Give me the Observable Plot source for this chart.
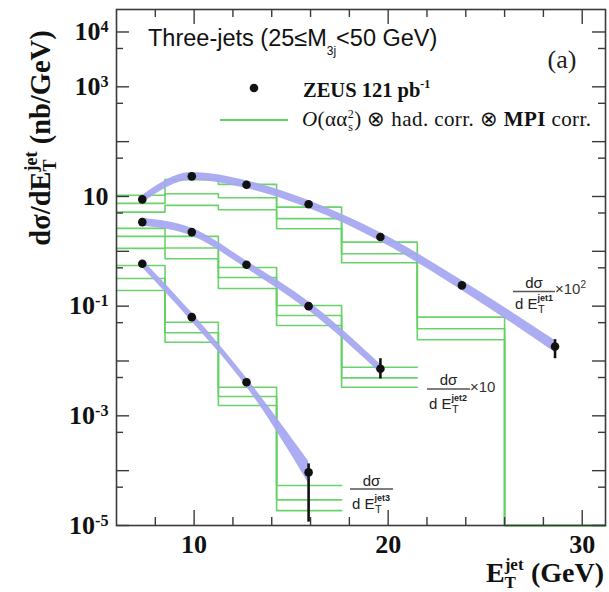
<!DOCTYPE html>
<html>
<head>
<meta charset="utf-8">
<script src="https://cdn.jsdelivr.net/npm/d3@7"></script>
<script src="https://cdn.jsdelivr.net/npm/@observablehq/plot@0.6"></script>
<style>
  html, body { margin: 0; padding: 0; background: #fff; }
  svg text { white-space: pre; }
</style>
</head>
<body>
<div id="chart"></div>
<script>
// ---------- data ----------
const binEdges = [6, 8.5, 11.25, 14.25, 17.6, 21.5, 26, 31.2];
const etJet = [7.33, 9.88, 12.7, 15.9, 19.6, 23.8, 28.6];

// ZEUS data points (nb/GeV), jet1 scaled x10^2, jet2 scaled x10
const jet1Data  = [8.85, 23.3, 16.4, 7.2, 1.82, 0.239, 0.0184];
const jet1ErrHi = [9.2, 24.2, 17.0, 7.5, 1.9, 0.25, 0.0245];
const jet1ErrLo = [8.5, 22.4, 15.8, 6.9, 1.74, 0.228, 0.011];
const jet2Data  = [3.41, 2.24, 0.569, 0.1, 0.0072];
const jet2ErrHi = [3.55, 2.33, 0.59, 0.104, 0.011];
const jet2ErrLo = [3.27, 2.15, 0.55, 0.096, 0.0047];
const jet3Data  = [0.594, 0.063, 0.0041, 9.3e-5];
const jet3ErrHi = [0.62, 0.066, 0.0043, 1.33e-4];
const jet3ErrLo = [0.57, 0.060, 0.0039, 1.15e-5];

// lavender band
const jet1BandLo = [7.53, 19.8, 14.0, 6.11, 1.51, 0.194, 0.0143];
const jet1BandHi = [10.4, 27.4, 19.3, 8.43, 2.18, 0.294, 0.0237];
const jet2BandLo = [2.9, 1.91, 0.484, 0.083, 0.006];
const jet2BandHi = [4.01, 2.63, 0.668, 0.12, 0.0087];
const jet3BandLo = [0.506, 0.0525, 0.0034, 5.9e-5];
const jet3BandHi = [0.698, 0.0759, 0.0049, 1.48e-4];

// O(alpha alpha_s^2) x had. corr. x MPI corr. (per bin: upper, central, lower)
const jet1TheoryUp   = [10.5, 20.3, 16.6, 6.41, 1.47, 0.063, 0];
const jet1TheoryMid  = [7.48, 11.2, 9.5, 3.94, 0.904, 0.0387, 0];
const jet1TheoryDown = [5.19, 6.88, 5.74, 2.58, 0.619, 0.0244, 0];
const jet2TheoryUp   = [2.62, 1.87, 0.508, 0.103, 0.0077];
const jet2TheoryMid  = [1.87, 1.15, 0.334, 0.0676, 0.00493];
const jet2TheoryDown = [1.13, 0.733, 0.21, 0.0445, 0.00333];
const jet3TheoryUp   = [0.553, 0.051, 0.00333, 5.35e-5];
const jet3TheoryMid  = [0.32, 0.0327, 0.00225, 2.93e-5];
const jet3TheoryDown = [0.193, 0.022, 0.00154, 1.87e-5];

// axis ticks
const yTickMajor = [1e4, 1e3, 1e2, 10, 1, 0.1, 0.01, 1e-3, 1e-4, 1e-5];
const yTickMinor = [5e3, 500, 50, 5, 0.5, 0.05, 0.005, 5e-4, 5e-5];
const yTickLabels = [1e4, 1e3, 10, 0.1, 1e-3, 1e-5];
const xTickMajor = [10, 20, 30];
const xTickMinor = [8, 12, 14, 16, 18, 22, 24, 26, 28];

// ---------- build tables ----------
const W = 609, H = 592;
const mL = 116, mR = 4, mT = 9, mB = 67;
const fw = W - mL - mR, fh = H - mT - mB;
const yDomain = [1e-5, 2.57e4];
const xDomain = [6, 31.2];

const series = [
  {key: "jet1", data: jet1Data, hi: jet1ErrHi, lo: jet1ErrLo, bLo: jet1BandLo, bHi: jet1BandHi,
   theory: [jet1TheoryUp, jet1TheoryMid, jet1TheoryDown]},
  {key: "jet2", data: jet2Data, hi: jet2ErrHi, lo: jet2ErrLo, bLo: jet2BandLo, bHi: jet2BandHi,
   theory: [jet2TheoryUp, jet2TheoryMid, jet2TheoryDown]},
  {key: "jet3", data: jet3Data, hi: jet3ErrHi, lo: jet3ErrLo, bLo: jet3BandLo, bHi: jet3BandHi,
   theory: [jet3TheoryUp, jet3TheoryMid, jet3TheoryDown]}
];

const points = series.flatMap(s => s.data.map((v, i) => ({
  key: s.key, x: etJet[i], y: v, lo: s.lo[i], hi: s.hi[i], bLo: s.bLo[i], bHi: s.bHi[i]
})));

const steps = series.flatMap(s => s.theory.flatMap((vals, j) => {
  const z = s.key + "-" + j;
  const rows = vals.map((v, i) => ({z, j, x: binEdges[i], y: Math.max(v, yDomain[0])}));
  rows.push({z, j, x: binEdges[vals.length], y: Math.max(vals[vals.length - 1], yDomain[0])});
  return rows;
}));

const green = "#62d062";
const axisColor = "#3a3a3a";

const plot = Plot.plot({
  width: W, height: H,
  marginLeft: mL, marginRight: mR, marginTop: mT, marginBottom: mB,
  style: {fontFamily: "'Liberation Serif', 'Times New Roman', serif", background: "#fff", overflow: "visible"},
  x: {domain: xDomain},
  y: {type: "log", domain: yDomain},
  marks: [
    Plot.line(steps, {x: "x", y: "y", z: "z", curve: "step-after",
      stroke: green, strokeWidth: 1.6, strokeOpacity: 0.95}),
    Plot.areaY(points, {x: "x", y1: "bLo", y2: "bHi", z: "key", curve: "monotone-x",
      fill: "#a7a8f0", fillOpacity: 0.95}),
    Plot.ruleX(points, {x: "x", y1: "lo", y2: "hi", stroke: "#111", strokeWidth: 2.6}),
    Plot.dot(points, {x: "x", y: "y", r: 4.3, fill: "#111", stroke: "none"}),
    // inward ticks on all four sides
    Plot.tickY(yTickMajor, {y: d => d, insetRight: fw - 13, stroke: axisColor, strokeWidth: 1.4}),
    Plot.tickY(yTickMajor, {y: d => d, insetLeft: fw - 13, stroke: axisColor, strokeWidth: 1.4}),
    Plot.tickY(yTickMinor, {y: d => d, insetRight: fw - 7, stroke: axisColor, strokeWidth: 1.4}),
    Plot.tickY(yTickMinor, {y: d => d, insetLeft: fw - 7, stroke: axisColor, strokeWidth: 1.4}),
    Plot.tickX(xTickMajor, {x: d => d, insetTop: fh - 15, stroke: axisColor, strokeWidth: 1.4}),
    Plot.tickX(xTickMajor, {x: d => d, insetBottom: fh - 15, stroke: axisColor, strokeWidth: 1.4}),
    Plot.tickX(xTickMinor, {x: d => d, insetTop: fh - 8, stroke: axisColor, strokeWidth: 1.4}),
    Plot.tickX(xTickMinor, {x: d => d, insetBottom: fh - 8, stroke: axisColor, strokeWidth: 1.4}),
    Plot.frame({stroke: axisColor, strokeWidth: 1.6}),
    Plot.axisY({ticks: yTickLabels, tickSize: 0, tickPadding: 8, label: null,
      tickFormat: d => d === 10 ? "10" : "10^" + Math.round(Math.log10(d))}),
    Plot.axisX({ticks: xTickMajor, tickSize: 0, tickPadding: 9, label: null, tickFormat: d => String(d)})
  ]
});

document.getElementById("chart").appendChild(plot);
const svg = d3.select(plot);

// style axis labels
svg.selectAll('g[aria-label="y-axis tick label"], g[aria-label="x-axis tick label"]')
  .attr("font-size", 26).attr("font-weight", "bold")
  .attr("font-family", "'Liberation Serif', serif").attr("fill", "#111");

svg.selectAll('g[aria-label="y-axis tick label"] text').each(function() {
  const s = this.textContent;
  if (s.includes("^")) {
    const [base, exp] = s.split("^");
    this.textContent = "";
    d3.select(this).append("tspan").text(base);
    d3.select(this).append("tspan").attr("dy", "-0.5em").attr("font-size", "0.62em").text(exp);
  }
});

// rich text helper: parts = [{t, shift(px, neg=up), dx, size, weight, style, family}]
function rich(parent, x, y, parts, attrs = {}) {
  const t = parent.append("text").attr("x", x).attr("y", y).attr("text-anchor", "start");
  for (const [k, v] of Object.entries(attrs)) t.attr(k, v);
  let cur = 0;
  for (const p of parts) {
    const s = p.shift || 0;
    const ts = t.append("tspan").text(p.t);
    if (s - cur !== 0) ts.attr("dy", s - cur);
    if (p.dx) ts.attr("dx", p.dx);
    if (p.size) ts.attr("font-size", p.size);
    if (p.weight) ts.attr("font-weight", p.weight);
    if (p.style) ts.attr("font-style", p.style);
    if (p.family) ts.attr("font-family", p.family);
    cur = s;
  }
  return t;
}

const ann = svg.append("g").attr("class", "annotations").attr("text-anchor", "start");
const serif = "'Liberation Serif', 'Times New Roman', serif";
const sans = "'Liberation Sans', Arial, sans-serif";

// y axis title (rotated)
rich(ann.append("g").attr("transform", "translate(50,138) rotate(-90)"), 0, 0, [
  {t: "dσ/dE"},
  {t: "jet", size: 18, shift: -13},
  {t: "T", size: 18, shift: 6, dx: -20},
  {t: " (nb/GeV)", shift: 0, dx: 8}
], {"text-anchor": "middle", "font-size": 28.5, "font-weight": "bold", "font-family": serif, fill: "#111"});

// x axis title
rich(ann, 604, 582, [
  {t: "E"},
  {t: "jet", size: 17, shift: -12},
  {t: "T", size: 17, shift: 6, dx: -19},
  {t: " (GeV)", shift: 0, dx: 8}
], {"text-anchor": "end", "font-size": 28, "font-weight": "bold", "font-family": serif, fill: "#111"});

// title
rich(ann, 148, 46, [
  {t: "Three-jets (25≤M"},
  {t: "3j", size: 12, shift: 9},
  {t: "<50 GeV)", shift: 0}
], {"font-size": 23.5, "font-family": sans, fill: "#111"});

// (a)
ann.append("text").attr("x", 562).attr("y", 68).attr("text-anchor", "middle")
  .attr("font-size", 26).attr("font-family", serif).attr("fill", "#222").text("(a)");

// legend
ann.append("circle").attr("cx", 254).attr("cy", 88).attr("r", 4.3).attr("fill", "#111");
rich(ann, 303, 97, [
  {t: "ZEUS 121 pb"},
  {t: "-1", size: 12, shift: -9}
], {"font-size": 20.5, "font-weight": "bold", "font-family": serif, fill: "#111"});
ann.append("line").attr("x1", 220).attr("x2", 288).attr("y1", 120).attr("y2", 120)
  .attr("stroke", green).attr("stroke-width", 2);
rich(ann, 302, 126, [
  {t: "O", style: "italic"},
  {t: "(αα"},
  {t: "2", size: 12, shift: -8},
  {t: "s", size: 12, shift: 5, dx: -6},
  {t: ") ⊗ had. corr. ⊗ ", shift: 0, dx: 1},
  {t: "MPI", weight: "bold"},
  {t: " corr."}
], {"font-size": 21, "font-family": serif, fill: "#111", "letter-spacing": 0.4});

// series labels (fractions)
function fracLabel(xL, xR, yBar, numBase, denBase, tag, factor, factorBase) {
  const g = ann.append("g").attr("font-family", sans).attr("fill", "#222");
  rich(g, (xL + xR) / 2, numBase, [{t: "dσ"}], {"text-anchor": "middle", "font-size": 15});
  g.append("line").attr("x1", xL).attr("x2", xR).attr("y1", yBar).attr("y2", yBar)
    .attr("stroke", "#555").attr("stroke-width", 1.3);
  rich(g, xL + 2, denBase, [
    {t: "d E"},
    {t: tag, size: 9, shift: -8, weight: "bold"},
    {t: "T", size: 11, shift: 4, dx: -15}
  ], {"font-size": 15});
  if (factor) {
    rich(g, xR, factorBase, factor, {"font-size": 15, fill: "#333"});
  }
}
fracLabel(513, 555, 291.5, 288, 309, "jet1", [{t: "×10"}, {t: "2", size: 10, shift: -6}], 294);
fracLabel(427, 470, 389, 385, 409, "jet2", [{t: "×10"}], 392);
fracLabel(350, 393, 489, 486, 509, "jet3", null, 0);
</script>
</body>
</html>
